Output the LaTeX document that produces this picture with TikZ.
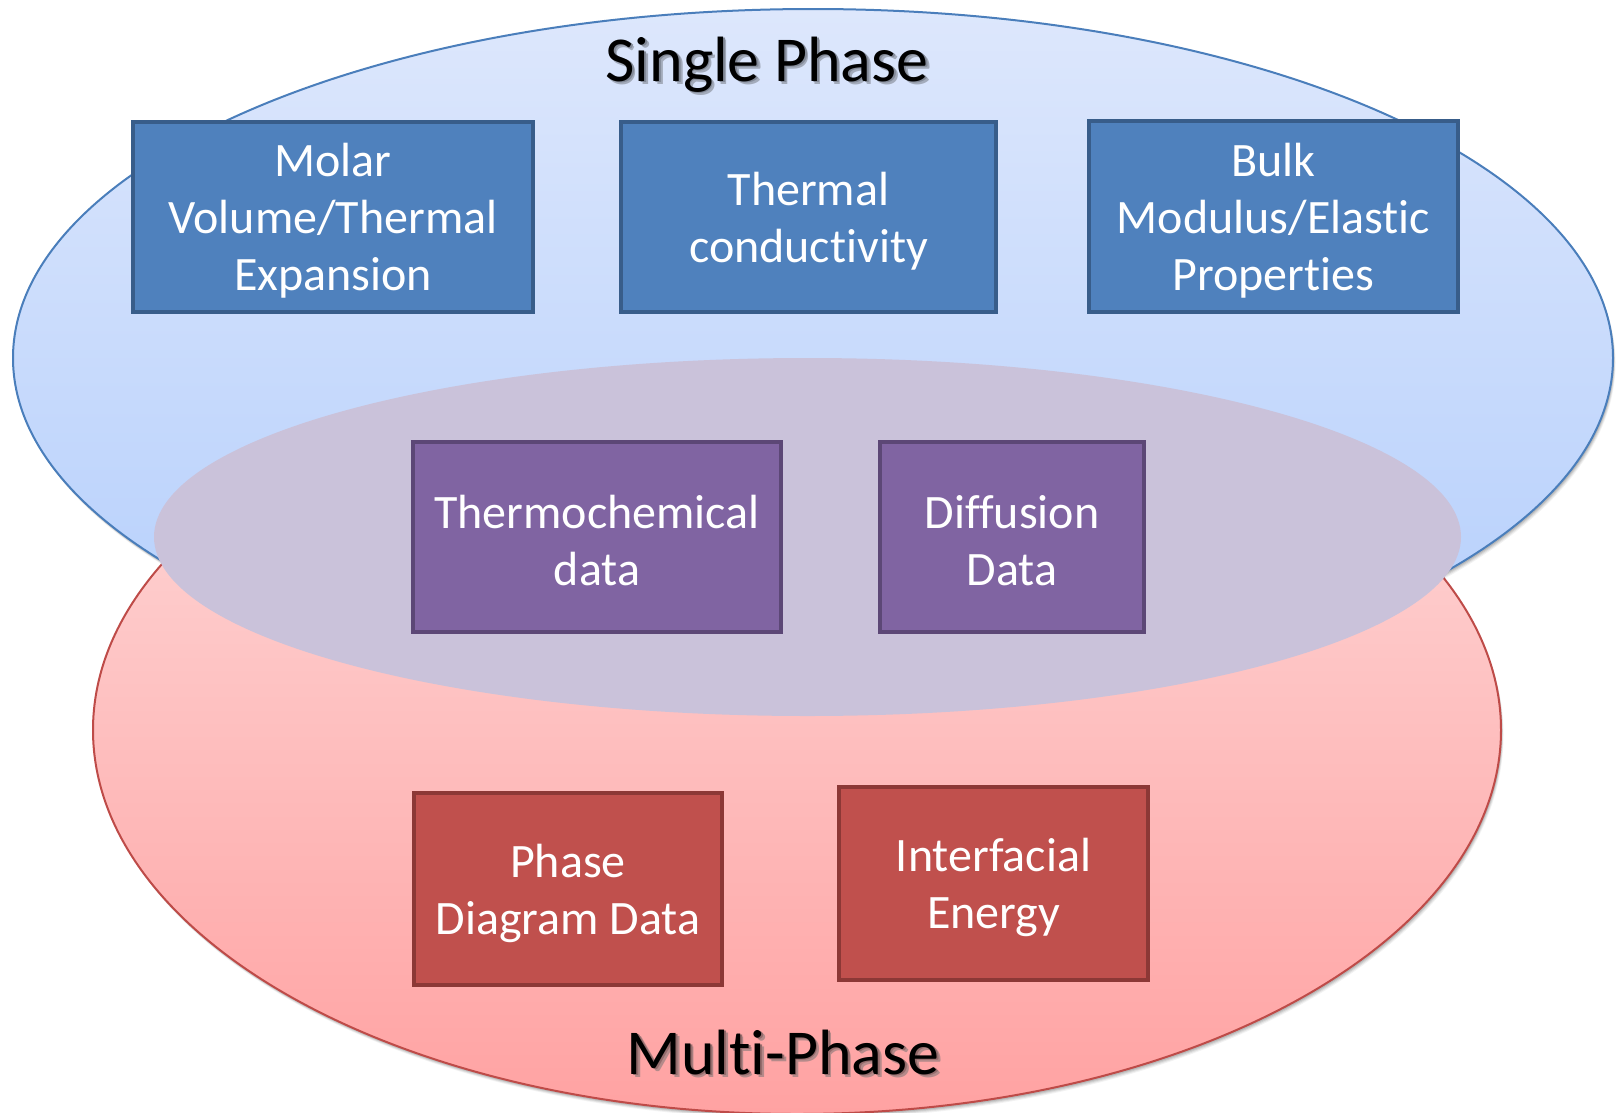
\documentclass[tikz,border=0pt]{standalone}
\usepackage{fontspec}
\setmainfont[Ligatures=NoCommon]{Carlito}
\definecolor{bluefill}{HTML}{4F81BD}
\definecolor{blueline}{HTML}{385D8A}
\definecolor{purplefill}{HTML}{8064A2}
\definecolor{purpleline}{HTML}{5C4776}
\definecolor{redfill}{HTML}{C0504D}
\definecolor{redline}{HTML}{8C3836}
\definecolor{bluetop}{HTML}{DDE7FC}
\definecolor{bluebot}{HTML}{B3CEFC}
\definecolor{bluerim}{HTML}{4A7EBB}
\definecolor{redtop}{HTML}{FDDCDC}
\definecolor{redbot}{HTML}{FFA2A2}
\definecolor{redrim}{HTML}{BE4B48}
\definecolor{overlap}{HTML}{CAC2DA}
\definecolor{blueshadow}{HTML}{A3ABBB}
\definecolor{blueshadowb}{HTML}{838A98}
\definecolor{redshadow}{HTML}{B58A8A}
\definecolor{redshadowb}{HTML}{946C6C}
\newcommand{\shtext}[3]{\makebox[0pt][l]{\kern3.5pt\raisebox{-3.5pt}{\color{#2}#1}}\makebox[0pt][l]{\kern1.8pt\raisebox{-1.8pt}{\color{#3}#1}}#1}
\begin{document}
\begin{tikzpicture}[x=1pt,y=-1pt,
  box/.style={rectangle, line width=4pt, inner sep=0pt},
  boxtext/.style={inner sep=0pt, align=center, text=white,
    font=\fontsize{48}{57}\selectfont},
  bluebox/.style={box, draw=blueline, fill=bluefill},
  purplebox/.style={box, draw=purpleline, fill=purplefill},
  redbox/.style={box, draw=redline, fill=redfill},
  title/.style={anchor=base, text=black, inner sep=0pt, font=\fontsize{64}{76}\selectfont}]
\useasboundingbox (0,0) rectangle (1620,1112);
\clip (0,0) rectangle (1620,1112);
% red ellipse (multi-phase) with soft shadow
\foreach \d/\o in {5/0.05,4/0.07,3/0.09,2/0.1}
  \fill[black,opacity=\o] (797+0.5*\d,730+\d) ellipse [x radius=704, y radius=384];
\shade[top color=redtop, bottom color=redbot] (797,730) ellipse [x radius=704, y radius=384];
\draw[redrim, line width=2pt] (797,730) ellipse [x radius=704, y radius=384];
% blue ellipse (single phase) with soft shadow
\foreach \d/\o in {5/0.05,4/0.07,3/0.09,2/0.1}
  \fill[black,opacity=\o] (813+0.5*\d,358+\d) ellipse [x radius=800, y radius=349];
\shade[top color=bluetop, bottom color=bluebot] (813,358) ellipse [x radius=800, y radius=349];
\draw[bluerim, line width=2pt] (813,358) ellipse [x radius=800, y radius=349];
% overlap ellipse
\fill[overlap] (807.5,537) ellipse [x radius=653.5, y radius=179];
% boxes
\node[bluebox, minimum width=400, minimum height=190] (molar) at (333,217) {};
\node[bluebox, minimum width=375, minimum height=190] (thermal) at (808.5,217) {};
\node[bluebox, minimum width=369, minimum height=191] (bulk) at (1273.5,216.5) {};
\node[purplebox, minimum width=368, minimum height=190] (thermo) at (597,537) {};
\node[purplebox, minimum width=264, minimum height=190] (diff) at (1012,537) {};
\node[redbox, minimum width=308, minimum height=192] (phase) at (568,889) {};
\node[redbox, minimum width=309, minimum height=193] (inter) at (993.5,883.5) {};
% box texts
\node[boxtext] (molar-t) at ([yshift=-4pt]molar.center) {Molar\\Volume/Thermal\\Expansion};
\node[boxtext] (thermal-t) at ([yshift=-4pt]thermal.center) {Thermal\\conductivity};
\node[boxtext] (bulk-t) at ([yshift=-4pt]bulk.center) {Bulk\\Modulus/Elastic\\Properties};
\node[boxtext] (thermo-t) at ([yshift=-4pt]thermo.center) {Thermochemical\\data};
\node[boxtext] (diff-t) at ([yshift=-4pt]diff.center) {Diffusion\\Data};
\node[boxtext] (phase-t) at ([yshift=-4pt]phase.center) {Phase\\Diagram Data};
\node[boxtext] (inter-t) at ([yshift=-4pt]inter.center) {Interfacial\\Energy};
% titles (with text shadow)
\node[title] (single) at (767,81) {\shtext{Single Phase}{blueshadow}{blueshadowb}};
\node[title] (multi) at (783,1074) {\shtext{Multi-Phase}{redshadow}{redshadowb}};
\end{tikzpicture}
\end{document}
